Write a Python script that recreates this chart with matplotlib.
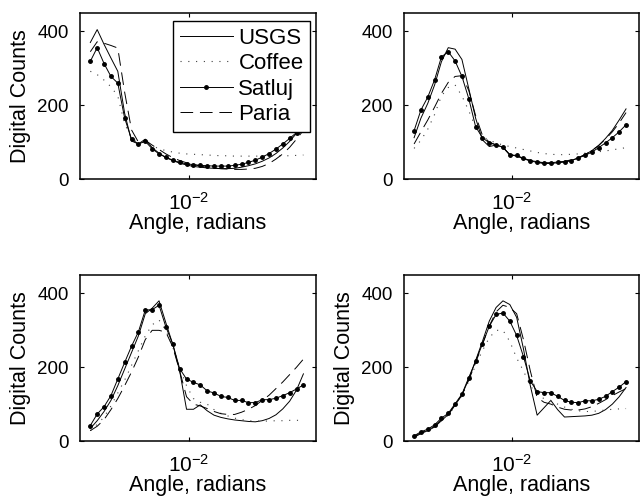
import matplotlib
matplotlib.use("Agg")
import matplotlib.pyplot as plt
from matplotlib.ticker import NullLocator

plt.rcParams["font.family"] = ["Liberation Sans", "DejaVu Sans"]
plt.rcParams["mathtext.fontset"] = "custom"
plt.rcParams["mathtext.rm"] = "Liberation Sans"
plt.rcParams["mathtext.it"] = "Liberation Sans:italic"

# sample angles (radians), shared by all four panels
angles = [0.003834, 0.004100, 0.004384, 0.004688, 0.005012, 0.005359, 0.005731, 0.006128,
          0.006553, 0.007007, 0.007493, 0.008012, 0.008567, 0.009162, 0.009797, 0.01048,
          0.01120, 0.01198, 0.01281, 0.01370, 0.01465, 0.01566, 0.01675, 0.01791,
          0.01915, 0.02048, 0.02190, 0.02342, 0.02504, 0.02678, 0.02863, 0.03062]

# panel a (top left)
usgs_a = [370, 405, 365, 328, 292, 178, 103, 95, 108, 85, 70, 58, 50, 43, 38, 34,
          32, 30, 29, 28, 28, 29, 32, 36, 41, 48, 57, 69, 84, 102, 124, 150]
coffee_a = [292, 283, 268, 250, 225, 150, 110, 100, 100, 90, 82, 77, 73, 70, 68, 67,
            66, 65, 64, 63, 63, 62, 62, 62, 62, 62, 62, 63, 63, 63, 64, 65]
satluj_a = [319, 356, 313, 278, 260, 165, 108, 95, 102, 82, 68, 59, 51, 45, 41, 39,
            37, 36, 35, 35, 35, 37, 40, 45, 51, 59, 69, 81, 95, 110, 126, 143]
paria_a = [345, 372, 368, 362, 355, 235, 133, 100, 105, 92, 80, 68, 58, 50, 44, 39,
           35, 32, 30, 28, 27, 26, 26, 27, 29, 34, 42, 54, 68, 86, 108, 132]

# panel b (top right)
usgs_b = [112, 165, 205, 255, 318, 356, 352, 324, 245, 165, 106, 88, 92, 86, 66, 62,
          55, 49, 45, 42, 42, 44, 46, 50, 57, 66, 77, 91, 110, 132, 160, 190]
coffee_b = [83, 105, 135, 175, 225, 248, 255, 225, 185, 140, 115, 105, 98, 92, 88, 84,
            80, 76, 72, 69, 67, 66, 66, 67, 68, 70, 72, 74, 76, 79, 82, 85]
satluj_b = [131, 187, 222, 269, 331, 345, 320, 278, 218, 142, 112, 98, 93, 86, 65, 64,
            56, 50, 47, 44, 44, 46, 47, 50, 57, 64, 73, 85, 98, 112, 128, 147]
paria_b = [95, 128, 160, 195, 232, 262, 278, 280, 240, 172, 118, 100, 92, 86, 66, 62,
           56, 50, 46, 43, 43, 45, 48, 52, 58, 66, 77, 91, 108, 128, 152, 180]

# panel c (bottom left)
usgs_c = [34, 55, 80, 110, 150, 195, 240, 285, 345, 360, 380, 320, 262, 190, 86, 86,
          98, 82, 70, 64, 60, 57, 55, 53, 52, 55, 61, 71, 87, 108, 138, 182]
coffee_c = [28, 45, 65, 95, 130, 165, 205, 245, 285, 315, 328, 300, 255, 200, 150, 115,
            105, 100, 85, 75, 68, 62, 58, 55, 54, 54, 54, 55, 55, 56, 56, 56]
satluj_c = [42, 73, 93, 123, 168, 213, 257, 296, 355, 356, 368, 309, 263, 196, 168, 159,
            152, 136, 130, 121, 118, 110, 110, 104, 104, 112, 112, 116, 123, 131, 141, 152]
paria_c = [28, 40, 58, 85, 115, 150, 187, 228, 275, 300, 300, 295, 255, 190, 120, 100,
           95, 88, 80, 74, 72, 72, 78, 86, 96, 110, 124, 142, 160, 180, 200, 222]

# panel d (bottom right)
usgs_d = [10, 20, 28, 38, 55, 72, 97, 125, 168, 218, 270, 325, 362, 380, 370, 335,
          250, 150, 70, 90, 110, 85, 65, 66, 67, 68, 70, 75, 85, 100, 120, 145]
coffee_d = [10, 20, 28, 38, 55, 70, 95, 123, 162, 205, 245, 280, 300, 300, 270, 225,
            190, 150, 125, 115, 110, 100, 92, 86, 82, 80, 80, 82, 84, 86, 87, 88]
satluj_d = [14, 25, 32, 44, 62, 75, 101, 127, 172, 216, 263, 311, 343, 347, 325, 286,
            229, 163, 134, 131, 131, 121, 110, 105, 104, 109, 109, 113, 121, 134, 146, 161]
paria_d = [12, 22, 30, 40, 58, 72, 98, 125, 165, 212, 262, 312, 350, 368, 362, 345,
           275, 190, 118, 105, 100, 92, 86, 84, 84, 87, 93, 102, 112, 123, 133, 142]

panels = [
    (usgs_a, coffee_a, satluj_a, paria_a),
    (usgs_b, coffee_b, satluj_b, paria_b),
    (usgs_c, coffee_c, satluj_c, paria_c),
    (usgs_d, coffee_d, satluj_d, paria_d),
]
boxes = [
    [0.125, 0.642, 0.369, 0.332],
    [0.631, 0.642, 0.367, 0.332],
    [0.125, 0.118, 0.369, 0.332],
    [0.631, 0.118, 0.367, 0.332],
]

fig = plt.figure(figsize=(6.4, 5.0), dpi=100)

for k, (usgs, coffee, satluj, paria) in enumerate(panels):
    ax = fig.add_axes(boxes[k])
    ax.plot(angles, usgs, color="k", lw=0.7, label="USGS")
    ax.plot(angles, coffee, color="0.25", lw=0.8, linestyle=(0, (1, 6)), label="Coffee")
    ax.plot(angles, satluj, color="k", lw=0.7, marker="o", ms=2.5, label="Satluj")
    ax.plot(angles, paria, color="k", lw=0.7, linestyle=(0, (13, 7)), label="Paria")

    ax.set_xscale("log")
    ax.set_xlim(10 ** -2.46, 10 ** -1.46)
    ax.set_ylim(0, 450)
    ax.set_xticks([0.01])
    ax.xaxis.set_minor_locator(NullLocator())
    ax.set_yticks([0, 200, 400])
    ax.tick_params(direction="in", top=True, right=True, length=3, width=0.8, labelsize=13.5)
    ax.tick_params(axis="x", pad=9, labelsize=15)
    ax.tick_params(axis="y", pad=8)
    for sp in ax.spines.values():
        sp.set_linewidth(1.1)

    ax.set_xlabel("Angle, radians", fontsize=15.5, labelpad=0)
    if k != 1:
        ax.set_ylabel("Digital Counts", fontsize=15.5)
        ax.yaxis.set_label_coords(-49 / 236, 0.5)

    if k == 0:
        leg = ax.legend(loc="upper right", bbox_to_anchor=(0.975, 0.952), fontsize=16,
                        frameon=True, fancybox=False, framealpha=1, edgecolor="k",
                        handlelength=2.4, handletextpad=0.25, labelspacing=0.2,
                        borderpad=0.3, borderaxespad=0)
        leg.get_frame().set_linewidth(1.0)

fig.savefig("out.png", dpi=100)
